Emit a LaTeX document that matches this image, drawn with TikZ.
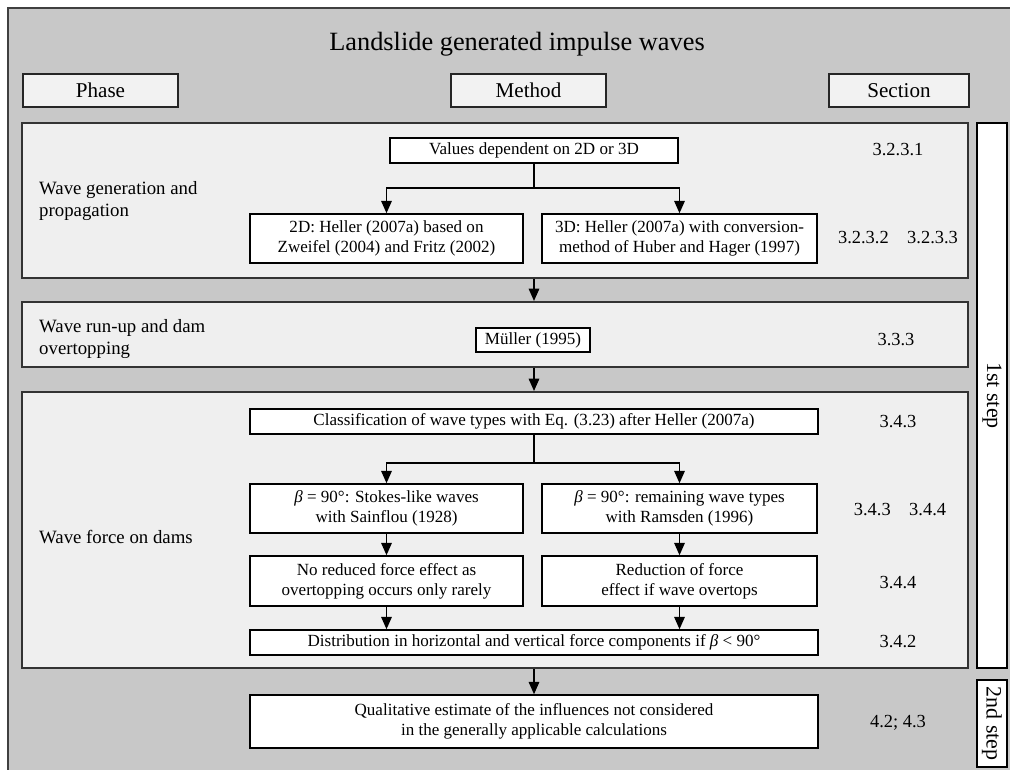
\documentclass[tikz,border=0pt]{standalone}
\usepackage{fontspec}
\setmainfont{Liberation Serif}
\usetikzlibrary{arrows.meta}

\definecolor{framegray}{RGB}{200,200,200}
\definecolor{panelgray}{RGB}{239,239,239}
\definecolor{headgray}{RGB}{242,242,242}

\begin{document}
\begin{tikzpicture}[x=0.02cm, y=-0.02cm,
        header/.style={draw=black!85, line width=1pt, fill=headgray, minimum width=3.1cm, minimum height=0.66cm, font=\fontsize{12}{14}\selectfont},
        panel/.style={draw=black!80, line width=1.2pt, fill=panelgray, minimum width=18.92cm, inner sep=0pt},
        method/.style={draw, line width=0.9pt, fill=white, inner sep=1pt, align=center, font=\fontsize{9.7}{11.4}\selectfont},
        phase/.style={anchor=west, align=left, font=\fontsize{10.7}{12.5}\selectfont},
        section/.style={font=\fontsize{10.5}{12}\selectfont},
        stepbox/.style={draw, line width=0.9pt, fill=white, minimum width=0.6cm, inner sep=0pt, font=\fontsize{12.5}{14}\selectfont},
        line/.style={line width=0.8pt},
        arrow/.style={-{Triangle[length=7pt,width=6pt]}, line width=0.8pt}
      ]
        \clip (0,0) rectangle (1010,770);
        % Frame
        \fill[framegray] (8,8) rectangle (1030,790);
        \draw[line width=1.2pt, black!75] (1030,8) -- (8,8) -- (8,790);

        % Title and column heads
        \node[font=\fontsize{15}{18}\selectfont] (title) at (517,44) {Landslide generated impulse waves};
        \node[header] (phasehead) at (100.5,90.5) {Phase};
        \node[header] (methodhead) at (528.5,90.5) {Method};
        \node[header, minimum width=2.8cm] (sectionhead) at (899,90.5) {Section};

        % Panels
        \node[panel, minimum height=3.1cm] (panel1) at (495,200.5) {};
        \node[panel, minimum height=1.3cm] (panel2) at (495,334.5) {};
        \node[panel, minimum height=5.52cm] (panel3) at (495,530) {};

        % Steps
        \node[stepbox, minimum height=10.9cm] (step1) at (992,395.5) {\rotatebox{-90}{1st step}};
        \node[stepbox, minimum height=1.74cm] (step2) at (992,723.5) {\rotatebox{-90}{2nd step}};

        % Wave generation and propagation
        \node[phase] (phase1) at (33,201) {Wave generation and\\propagation};
        \node[method, minimum width=5.76cm, minimum height=0.5cm] (values) at (534,150.5) {Values dependent on 2D or 3D};
        \node[method, minimum width=5.46cm, minimum height=0.98cm] (twoD) at (386.5,238.5) {2D: Heller (2007a) based on\\Zweifel (2004) and Fritz (2002)};
        \node[method, minimum width=5.5cm, minimum height=0.98cm] (threeD) at (679.5,238.5) {3D: Heller (2007a) with conversion-\\method of Huber and Hager (1997)};
        \node[section] (sec1) at (898,150) {3.2.3.1};
        \node[section] (sec2) at (898,238) {3.2.3.2\quad 3.2.3.3};
        \coordinate (split1) at (534,188);
        \draw[line] (values.south) -- (split1);
        \draw[arrow] (split1) -| (twoD.north);
        \draw[arrow] (split1) -| (threeD.north);

        % Wave run-up and dam overtopping
        \node[phase] (phase2) at (33,339) {Wave run-up and dam\\overtopping};
        \node[method, minimum width=2.28cm, minimum height=0.48cm] (mueller) at (533,340) {Müller (1995)};
        \node[section] (sec3) at (896,340) {3.3.3};
        \draw[arrow] (values |- panel1.south) -- (values |- panel2.north);

        % Wave force on dams
        \node[phase] (phase3) at (33,537) {Wave force on dams};
        \node[method, minimum width=11.36cm, minimum height=0.5cm] (classify) at (534,421.5) {Classification of wave types with Eq. (3.23) after Heller (2007a)};
        \node[method, minimum width=5.46cm, minimum height=0.98cm] (stokes) at (386.5,508.5) {\textit{β} = 90°: Stokes-like waves\\with Sainflou (1928)};
        \node[method, minimum width=5.5cm, minimum height=0.98cm] (remaining) at (679.5,508.5) {\textit{β} = 90°: remaining wave types\\with Ramsden (1996)};
        \node[method, minimum width=5.46cm, minimum height=1cm] (noreduce) at (386.5,581) {No reduced force effect as\\overtopping occurs only rarely};
        \node[method, minimum width=5.5cm, minimum height=1cm] (reduce) at (679.5,581) {Reduction of force\\effect if wave overtops};
        \node[method, minimum width=11.36cm, minimum height=0.5cm] (distrib) at (534,642.5) {Distribution in horizontal and vertical force components if \textit{β} < 90°};
        \node[section] (sec4) at (898,422) {3.4.3};
        \node[section] (sec5) at (900,510) {3.4.3\quad 3.4.4};
        \node[section] (sec6) at (898,583) {3.4.4};
        \node[section] (sec7) at (898,642) {3.4.2};
        \draw[arrow] (values |- panel2.south) -- (classify.north |- panel3.north);
        \coordinate (split2) at (534,463);
        \draw[line] (classify.south) -- (split2);
        \draw[arrow] (split2) -| (stokes.north);
        \draw[arrow] (split2) -| (remaining.north);
        \draw[arrow] (stokes) -- (noreduce);
        \draw[arrow] (remaining) -- (reduce);
        \draw[arrow] (noreduce.south) -- (noreduce.south |- distrib.north);
        \draw[arrow] (reduce.south) -- (reduce.south |- distrib.north);

        % Second step
        \node[method, minimum width=11.36cm, minimum height=1.06cm] (qualitative) at (534,721.5) {Qualitative estimate of the influences not considered\\in the generally applicable calculations};
        \node[section] (sec8) at (898,723) {4.2; 4.3};
        \draw[arrow] (qualitative.north |- panel3.south) -- (qualitative.north);
    \end{tikzpicture}
\end{document}
